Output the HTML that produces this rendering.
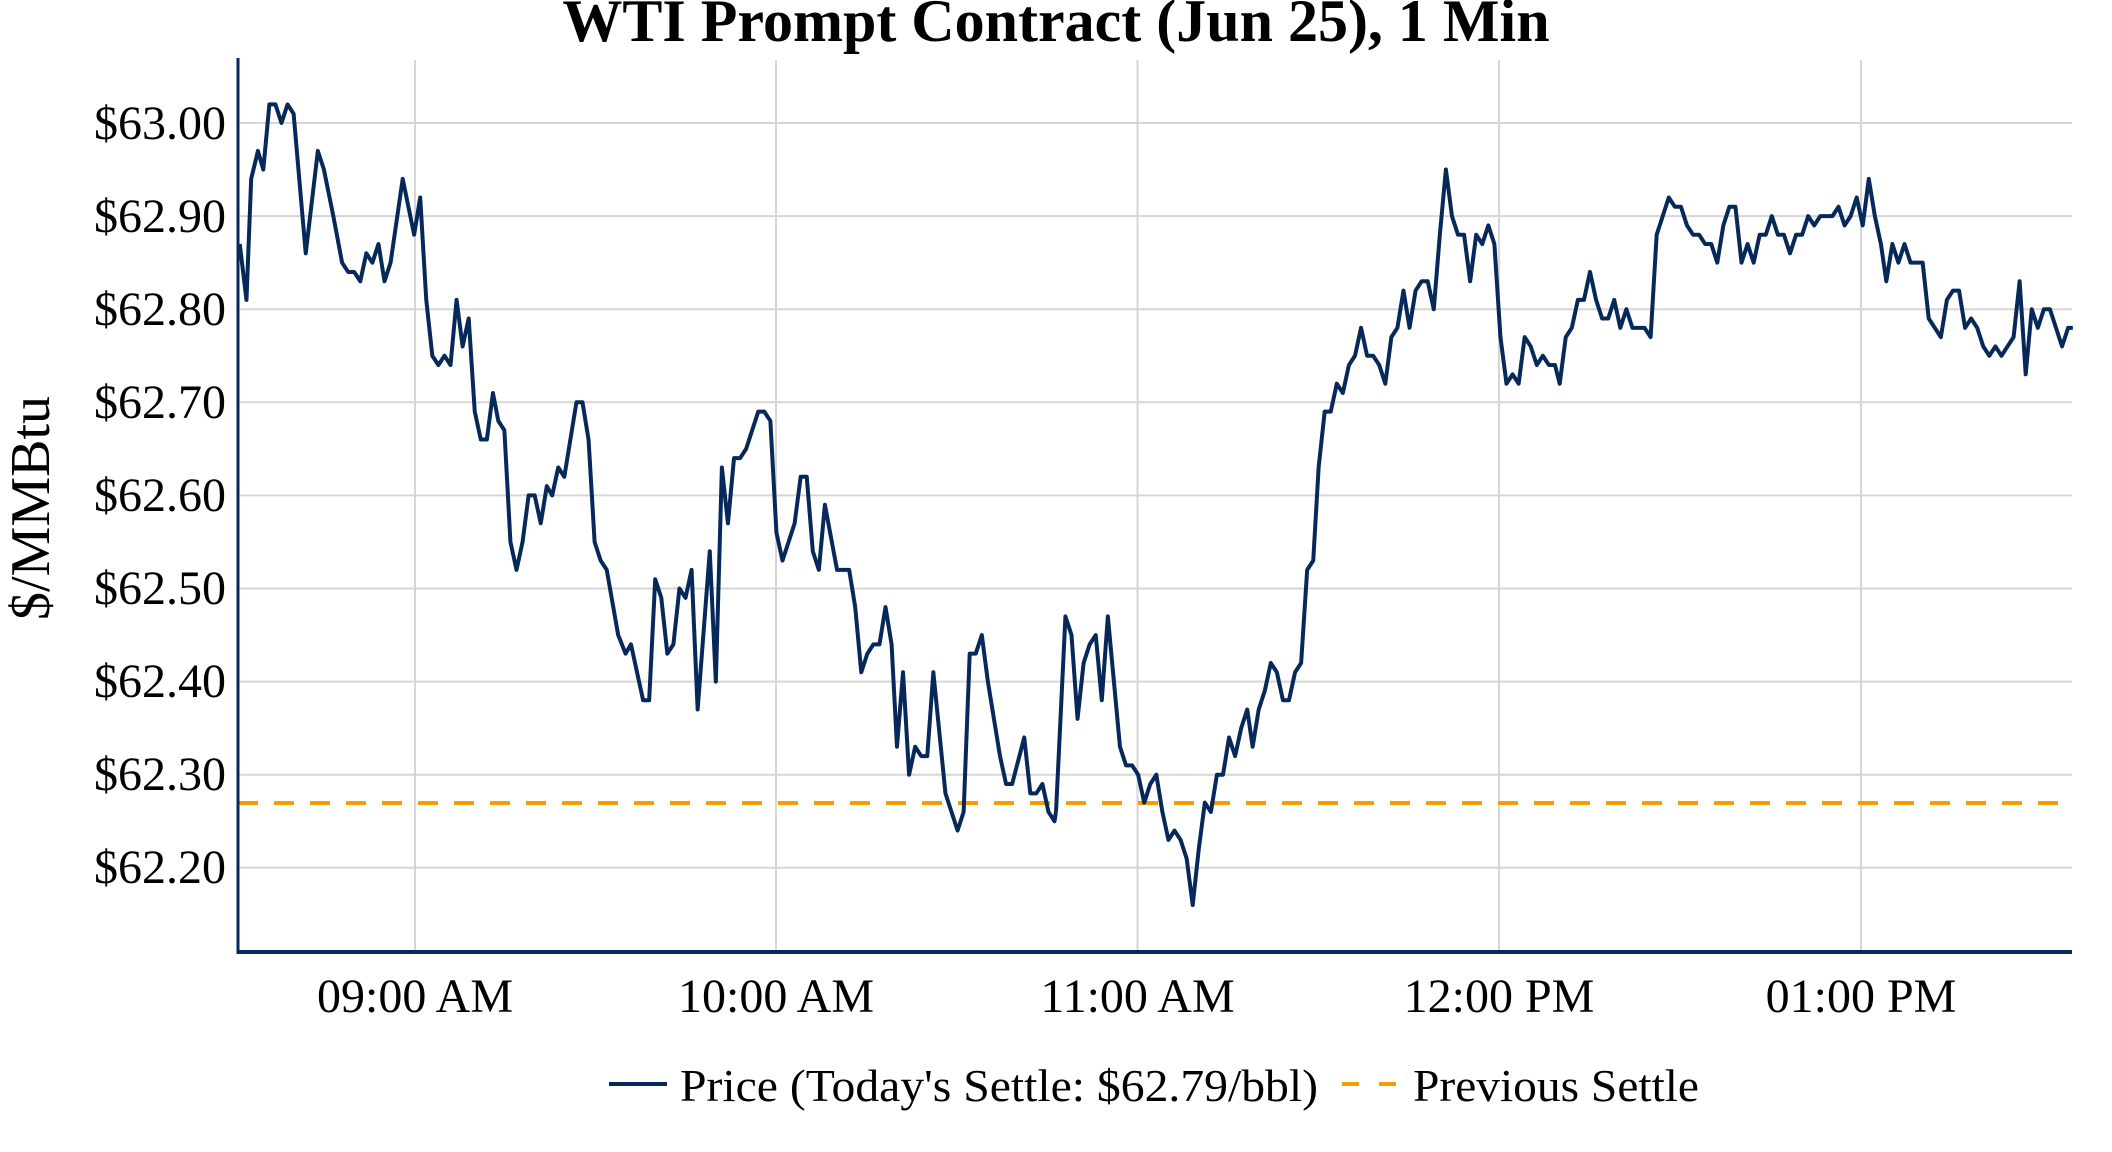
<!DOCTYPE html>
<html><head><meta charset="utf-8"><style>
html,body{margin:0;padding:0;background:#fff;}
svg{display:block;}
text{font-family:"Liberation Serif","Times New Roman",serif;fill:#000;}
</style></head><body>
<svg width="2112" height="1152" viewBox="0 0 2112 1152" xmlns="http://www.w3.org/2000/svg">
<rect width="2112" height="1152" fill="#fff"/>
<text x="1056" y="41" font-size="60" font-weight="bold" text-anchor="middle">WTI Prompt Contract (Jun 25), 1 Min</text>
<g stroke="#d6d6d6" stroke-width="2">
<line x1="415" y1="60" x2="415" y2="952"/>
<line x1="776" y1="60" x2="776" y2="952"/>
<line x1="1137.5" y1="60" x2="1137.5" y2="952"/>
<line x1="1499" y1="60" x2="1499" y2="952"/>
<line x1="1861" y1="60" x2="1861" y2="952"/>
<line x1="238" y1="123" x2="2072" y2="123"/>
<line x1="238" y1="216.1" x2="2072" y2="216.1"/>
<line x1="238" y1="309.2" x2="2072" y2="309.2"/>
<line x1="238" y1="402.3" x2="2072" y2="402.3"/>
<line x1="238" y1="495.4" x2="2072" y2="495.4"/>
<line x1="238" y1="588.5" x2="2072" y2="588.5"/>
<line x1="238" y1="681.6" x2="2072" y2="681.6"/>
<line x1="238" y1="774.7" x2="2072" y2="774.7"/>
<line x1="238" y1="867.8" x2="2072" y2="867.8"/>
</g>
<g font-size="48" text-anchor="end">
<text x="226" y="139">$63.00</text>
<text x="226" y="232">$62.90</text>
<text x="226" y="325">$62.80</text>
<text x="226" y="418">$62.70</text>
<text x="226" y="511">$62.60</text>
<text x="226" y="604">$62.50</text>
<text x="226" y="697">$62.40</text>
<text x="226" y="790">$62.30</text>
<text x="226" y="883">$62.20</text>
</g>
<g font-size="48" text-anchor="middle">
<text x="415" y="1012">09:00 AM</text>
<text x="776" y="1012">10:00 AM</text>
<text x="1137.5" y="1012">11:00 AM</text>
<text x="1499" y="1012">12:00 PM</text>
<text x="1861" y="1012">01:00 PM</text>
</g>
<text transform="translate(49,508) rotate(-90)" font-size="56" text-anchor="middle">$/MMBtu</text>
<line x1="238" y1="803" x2="2072" y2="803" stroke="#f59c00" stroke-width="4" stroke-dasharray="20,16"/>
<g fill="none" stroke="#06295a" stroke-width="4" stroke-linejoin="round">
<polyline vector-effect="non-scaling-stroke" transform="matrix(0.67340,0,0,-931,0,58776)" points="356,62.87 366,62.81 373,62.94 383,62.97 391,62.95 400,63.02 409,63.02 418,63.00 427,63.02 436,63.01 454,62.86 472,62.97 481,62.95 495,62.90 508,62.85 517,62.84 526,62.84 535,62.83 544,62.86 553,62.85 562,62.87 571,62.83 580,62.85 598,62.94 615,62.88 624,62.92 633,62.81 642,62.75 651,62.74 660,62.75 669,62.74 678,62.81 687,62.76 696,62.79 705,62.69 714,62.66 723,62.66 732,62.71 740,62.68 749,62.67 758,62.55 767,62.52 776,62.55 785,62.60 794,62.60 803,62.57 812,62.61 820,62.60 829,62.63 838,62.62 847,62.66 856,62.70 865,62.70 874,62.66 883,62.55 892,62.53 901,62.52 918,62.45 929,62.43 937,62.44 955,62.38 964,62.38 973,62.51 982,62.49 991,62.43 1000,62.44 1009,62.50 1018,62.49 1027,62.52 1036,62.37 1054,62.54 1063,62.40 1072,62.63 1081,62.57 1090,62.64 1099,62.64 1108,62.65 1126,62.69 1135,62.69 1144,62.68 1153,62.56 1162,62.53 1180,62.57 1189,62.62 1198,62.62 1207,62.54 1216,62.52 1225,62.59 1243,62.52 1261,62.52 1270,62.48 1279,62.41 1288,62.43 1297,62.44 1306,62.44 1315,62.48 1324,62.44 1332,62.33 1341,62.41 1350,62.30 1359,62.33 1368,62.32 1377,62.32 1386,62.41 1404,62.28 1422,62.24 1431,62.26 1440,62.43 1449,62.43 1458,62.45 1467,62.40 1485,62.32 1494,62.29 1503,62.29 1521,62.34 1530,62.28 1539,62.28 1548,62.29 1557,62.26 1566,62.25 1568,62.26"/>
<polyline vector-effect="non-scaling-stroke" transform="matrix(0.67340,0,0,-931,1056,58776)" points="0,62.26 14,62.47 23,62.45 32,62.36 41,62.42 50,62.44 59,62.45 68,62.38 77,62.47 86,62.40 95,62.33 104,62.31 113,62.31 122,62.30 131,62.27 140,62.29 149,62.30 158,62.26 167,62.23 176,62.24 185,62.23 194,62.21 203,62.16 212,62.22 221,62.27 230,62.26 239,62.30 248,62.30 257,62.34 266,62.32 275,62.35 284,62.37 292,62.33 301,62.37 310,62.39 319,62.42 328,62.41 337,62.38 346,62.38 355,62.41 364,62.42 373,62.52 382,62.53 390,62.63 399,62.69 408,62.69 417,62.72 426,62.71 435,62.74 444,62.75 453,62.78 462,62.75 471,62.75 480,62.74 489,62.72 498,62.77 507,62.78 516,62.82 525,62.78 534,62.82 543,62.83 552,62.83 561,62.80 570,62.88 579,62.95 588,62.90 597,62.88 606,62.88 615,62.83 624,62.88 633,62.87 642,62.89 651,62.87 660,62.77 669,62.72 678,62.73 687,62.72 696,62.77 705,62.76 714,62.74 723,62.75 732,62.74 741,62.74 748,62.72 757,62.77 766,62.78 775,62.81 784,62.81 793,62.84 802,62.81 811,62.79 820,62.79 829,62.81 838,62.78 847,62.80 856,62.78 874,62.78 883,62.77 892,62.88 901,62.90 910,62.92 919,62.91 928,62.91 937,62.89 946,62.88 955,62.88 964,62.87 973,62.87 982,62.85 991,62.89 1000,62.91 1009,62.91 1018,62.85 1027,62.87 1036,62.85 1045,62.88 1054,62.88 1063,62.90 1072,62.88 1081,62.88 1090,62.86 1099,62.88 1108,62.88 1117,62.90 1126,62.89 1135,62.90 1153,62.90 1162,62.91 1171,62.89 1180,62.90 1189,62.92 1198,62.89 1207,62.94 1216,62.90 1225,62.87 1233,62.83 1242,62.87 1251,62.85 1260,62.87 1269,62.85 1287,62.85 1296,62.79 1305,62.78 1314,62.77 1323,62.81 1332,62.82 1341,62.82 1350,62.78 1359,62.79 1368,62.78 1377,62.76 1386,62.75 1395,62.76 1404,62.75 1413,62.76 1422,62.77 1431,62.83 1440,62.73 1449,62.80 1458,62.78 1467,62.80 1476,62.80 1485,62.78 1494,62.76 1503,62.78 1510,62.78"/>
</g>
<line x1="238" y1="58" x2="238" y2="954" stroke="#06295a" stroke-width="3"/>
<line x1="236.5" y1="952" x2="2072" y2="952" stroke="#06295a" stroke-width="4"/>
<line x1="609" y1="1084" x2="667" y2="1084" stroke="#06295a" stroke-width="4"/>
<text x="680" y="1101" font-size="46" textLength="638" lengthAdjust="spacingAndGlyphs">Price (Today's Settle: $62.79/bbl)</text>
<line x1="1342" y1="1084" x2="1396" y2="1084" stroke="#f59c00" stroke-width="4" stroke-dasharray="17,20"/>
<text x="1413" y="1101" font-size="46" textLength="286" lengthAdjust="spacingAndGlyphs">Previous Settle</text>
</svg>
</body></html>
